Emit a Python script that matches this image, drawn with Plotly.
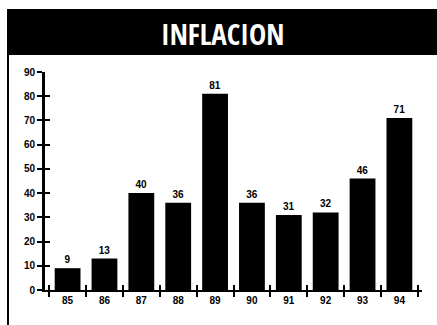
import plotly.graph_objects as go

years = ["85", "86", "87", "88", "89", "90", "91", "92", "93", "94"]
inflation = [9, 13, 40, 36, 81, 36, 31, 32, 46, 71]
y_ticks = [0, 10, 20, 30, 40, 50, 60, 70, 80, 90]
title_text = "INFLACION"

W, H = 437, 325
L, R, T, B = 45, 15, 72, 35
pw, ph = W - L - R, H - T - B

def px_x(px):
    return (px - L) / pw

def px_y(py):
    return (H - B - py) / ph

fig = go.Figure()
fig.add_trace(go.Bar(
    x=years, y=inflation, width=0.7,
    marker=dict(color="black", line=dict(width=0)),
    text=[str(v) for v in inflation], textposition="outside",
    outsidetextfont=dict(family="Liberation Sans, Arial", size=10, color="black", weight="bold"),
    textfont=dict(family="Liberation Sans, Arial", size=10, color="black", weight="bold"),
    cliponaxis=False,
))
# invisible trace on overlay axes to show crossing ticks
fig.add_trace(go.Scatter(x=years, y=inflation, xaxis="x2", yaxis="y2",
                         mode="markers", marker=dict(opacity=0), hoverinfo="skip",
                         showlegend=False))

tickfont = dict(family="Liberation Sans, Arial", size=10, color="black", weight="bold")
fig.update_layout(
    width=W, height=H,
    margin=dict(l=L, r=R, t=T, b=B, pad=0),
    paper_bgcolor="white", plot_bgcolor="white",
    showlegend=False, bargap=0.3,
    xaxis=dict(type="category", tickson="boundaries", ticks="outside", ticklen=5,
               tickwidth=2, tickcolor="black", showline=True, linecolor="black",
               linewidth=2, showgrid=False, tickfont=tickfont, zeroline=False),
    yaxis=dict(range=[0, 90], tickvals=y_ticks, ticks="outside", ticklen=5,
               tickwidth=2, tickcolor="black", showline=True, linecolor="black",
               linewidth=3, showgrid=False, zeroline=False, tickfont=tickfont),
    xaxis2=dict(type="category", overlaying="x", tickson="boundaries", ticks="inside",
                ticklen=5, tickwidth=2, tickcolor="black", showticklabels=False,
                showgrid=False, zeroline=False, side="bottom", matches="x",
                categoryarray=years, categoryorder="array"),
    yaxis2=dict(range=[0, 90], tickvals=y_ticks, overlaying="y", ticks="inside",
                ticklen=5, tickwidth=2, tickcolor="black", showticklabels=False,
                showgrid=False, zeroline=False, side="left"),
)

# title bar and frame
fig.add_shape(type="rect", xref="paper", yref="paper",
              x0=px_x(7), x1=px_x(440), y0=px_y(55), y1=px_y(9),
              fillcolor="black", line=dict(width=0), layer="below")
fig.add_shape(type="line", xref="paper", yref="paper",
              x0=px_x(8), x1=px_x(8), y0=px_y(330), y1=px_y(9),
              line=dict(color="black", width=2))
fig.add_annotation(text="<b>" + title_text + "</b>", xref="paper", yref="paper",
                   x=px_x(222), y=px_y(33), xanchor="center", yanchor="middle",
                   showarrow=False,
                   font=dict(family="Open Sans Condensed, Roboto Condensed, sans-serif",
                             size=29, color="white"))

fig.write_html("out.html")
